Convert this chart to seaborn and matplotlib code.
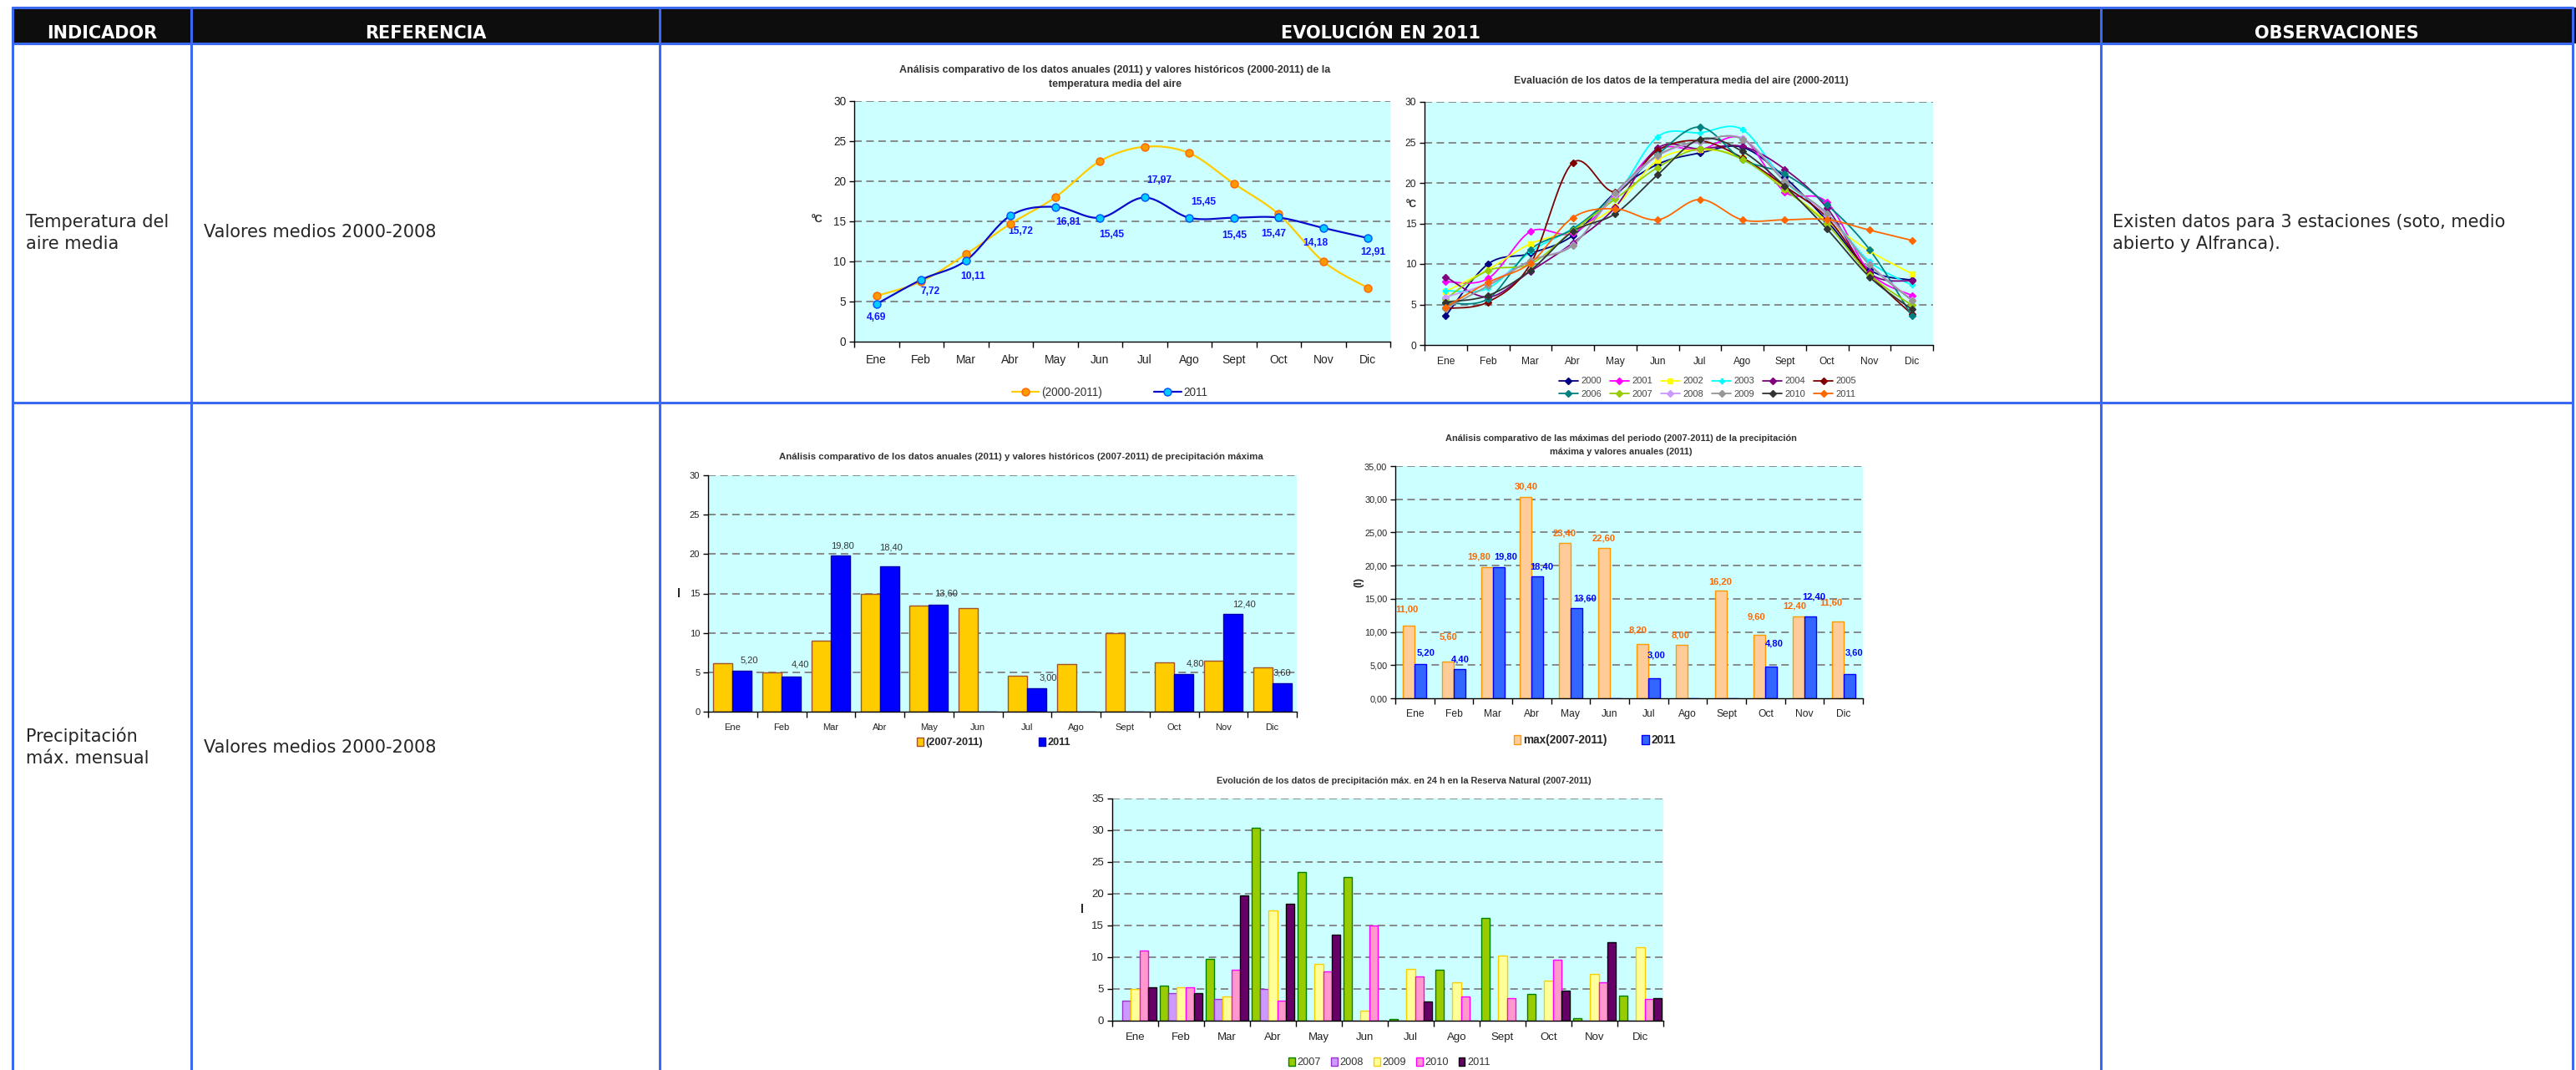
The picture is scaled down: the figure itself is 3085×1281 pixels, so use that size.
import numpy as np
import pandas as pd
import matplotlib
matplotlib.use('Agg')
import matplotlib.pyplot as plt
import seaborn as sns
from matplotlib.lines import Line2D
from matplotlib.patches import Rectangle, Patch

# ----------------------------------------------------------------- data
meses = ['Ene', 'Feb', 'Mar', 'Abr', 'May', 'Jun', 'Jul', 'Ago', 'Sept', 'Oct', 'Nov', 'Dic']

# Chart 1 : temperatura media
temp_hist = [5.7, 7.5, 10.9, 14.7, 18.0, 22.5, 24.3, 23.5, 19.7, 15.9, 10.0, 6.7]
temp_2011 = [4.69, 7.72, 10.11, 15.72, 16.81, 15.45, 17.97, 15.45, 15.45, 15.47, 14.18, 12.91]

# Chart 2 : temperatura media 2000-2011
t2000 = [3.6, 10.0, 11.3, 13.5, 18.8, 22.3, 23.7, 24.4, 20.7, 15.3, 9.3, 8.0]
t2001 = [7.8, 8.2, 14.0, 13.8, 18.3, 24.1, 24.1, 25.5, 18.9, 17.6, 9.0, 6.1]
t2002 = [6.6, 9.3, 12.5, 14.1, 17.1, 22.8, 24.1, 23.1, 19.3, 15.3, 11.6, 8.8]
t2003 = [6.7, 7.0, 11.5, 14.4, 18.3, 25.7, 26.2, 26.6, 20.2, 16.2, 10.3, 7.4]
t2004 = [8.4, 5.9, 9.1, 12.6, 17.0, 24.3, 24.2, 24.5, 21.7, 16.9, 8.9, 7.9]
t2005 = [4.5, 5.3, 10.0, 22.5, 18.9, 24.0, 25.2, 23.1, 19.6, 15.7, 8.8, 3.8]
t2006 = [5.2, 5.7, 11.8, 14.3, 18.6, 23.5, 26.9, 22.9, 21.1, 17.3, 11.8, 3.6]
t2007 = [5.7, 9.2, 10.0, 14.1, 18.0, 21.9, 24.2, 22.9, 19.2, 14.9, 8.7, 4.9]
t2008 = [5.9, 7.6, 10.4, 12.4, 18.6, 23.3, 25.1, 25.5, 20.3, 16.0, 10.0, 5.6]
t2009 = [4.5, 7.3, 10.4, 12.3, 18.8, 23.4, 25.2, 25.4, 20.2, 16.2, 9.9, 5.5]
t2010 = [5.3, 6.1, 9.2, 14.0, 16.2, 21.0, 25.4, 23.9, 19.6, 14.3, 8.4, 4.4]
t2011 = temp_2011
anios_temp = ['2000', '2001', '2002', '2003', '2004', '2005',
              '2006', '2007', '2008', '2009', '2010', '2011']

# Chart 3 : precipitacion maxima (2007-2011) vs 2011
prec_hist = [6.15, 5.0, 9.0, 14.9, 13.5, 13.1, 4.6, 6.0, 10.0, 6.25, 6.5, 5.6]
prec_2011 = [5.2, 4.4, 19.8, 18.4, 13.6, None, 3.0, None, None, 4.8, 12.4, 3.6]

# Chart 4 : maximas del periodo (2007-2011) vs 2011
prec_max = [11.0, 5.6, 19.8, 30.4, 23.4, 22.6, 8.2, 8.0, 16.2, 9.6, 12.4, 11.6]

# Chart 5 : evolucion precipitacion max en 24 h (2007-2011)
p2007 = [None, 5.5, 9.8, 30.4, 23.4, 22.6, 0.2, 8.0, 16.2, 4.2, 0.4, 4.0]
p2008 = [3.2, 4.3, 3.4, 5.0, None, None, None, None, None, None, None, None]
p2009 = [5.0, 5.3, 3.8, 17.4, 9.0, 1.6, 8.2, 6.0, 10.2, 6.3, 7.4, 11.6]
p2010 = [11.0, 5.2, 8.0, 3.2, 7.8, 15.0, 7.0, 3.8, 3.6, 9.6, 6.0, 3.4]
p2011 = prec_2011
anios_prec = ['2007', '2008', '2009', '2010', '2011']

# ----------------------------------------------------------------- style
sns.set_theme(style='white')
K = 1.15
plt.rcParams['font.family'] = ['Liberation Sans', 'DejaVu Sans']

W, H = 3085, 1281
fig = plt.figure(figsize=(W / 100, H / 100), dpi=100)
fig.patch.set_facecolor('white')


def fx(x):
    return x / W


def fy(y):
    return 1 - y / H


PX = 0.72  # points per pixel

# ----------------------------------------------------------------- table
BLUE = '#3a68f0'
fig.patches.append(Rectangle((fx(15), fy(52)), fx(3085) - fx(15), fy(9) - fy(52),
                             transform=fig.transFigure, facecolor='#0d0d0d',
                             edgecolor='none', zorder=0))


def hline(y, x0=15, x1=3081):
    fig.add_artist(Line2D([fx(x0), fx(x1)], [fy(y), fy(y)], color=BLUE, lw=2.2,
                          transform=fig.transFigure, zorder=5))


def vline(x, y0=9, y1=1281):
    fig.add_artist(Line2D([fx(x), fx(x)], [fy(y0), fy(y1)], color=BLUE, lw=2.2,
                          transform=fig.transFigure, zorder=5))


for yy in (9, 52, 482):
    hline(yy)
for xx in (15, 229, 790, 2516, 3081):
    vline(xx)

TFONT = ['DejaVu Sans']
for cx, txt in ((122, 'INDICADOR'), (510, 'REFERENCIA'), (1653, 'EVOLUCIÓN EN 2011'),
                (2798, 'OBSERVACIONES')):
    fig.text(fx(cx), fy(40), txt, ha='center', va='center', color='white',
             fontsize=15, weight='bold', family=TFONT)

fig.text(fx(31), fy(266), 'Temperatura del', ha='left', va='center', fontsize=15, family=TFONT)
fig.text(fx(31), fy(292), 'aire media', ha='left', va='center', fontsize=15, family=TFONT)
fig.text(fx(244), fy(278), 'Valores medios 2000-2008', ha='left', va='center', fontsize=15, family=TFONT)
fig.text(fx(2530), fy(266), 'Existen datos para 3 estaciones (soto, medio', ha='left', va='center',
         fontsize=15, family=TFONT)
fig.text(fx(2530), fy(292), 'abierto y Alfranca).', ha='left', va='center', fontsize=15, family=TFONT)
fig.text(fx(31), fy(881), 'Precipitación', ha='left', va='center', fontsize=15, family=TFONT)
fig.text(fx(31), fy(908), 'máx. mensual', ha='left', va='center', fontsize=15, family=TFONT)
fig.text(fx(244), fy(895), 'Valores medios 2000-2008', ha='left', va='center', fontsize=15, family=TFONT)


# ----------------------------------------------------------------- helpers
def add_ax(x0, y0, x1, y1):
    return fig.add_axes([fx(x0), fy(y1), fx(x1) - fx(x0), fy(y0) - fy(y1)])


def style_ax(ax, ymax, ystep, fmt='{:.0f}', xfs=8, yfs=8, xpad=7):
    ax.set_facecolor('#CCFFFF')
    ax.set_xlim(-0.5, 11.5)
    ax.set_ylim(0, ymax)
    yt = np.arange(0, ymax + 0.001, ystep)
    ax.set_yticks(yt)
    ax.set_yticklabels([fmt.format(v).replace('.', ',') for v in yt])
    for v in yt[1:]:
        ax.axhline(v, color='#808080', lw=1.3, ls=(0, (5, 3)), zorder=0.5)
    ax.set_xticks(range(12))
    ax.set_xticklabels(meses)
    ax.set_xticks(np.arange(-0.5, 12, 1), minor=True)
    ax.tick_params(axis='x', which='major', bottom=False, labelsize=xfs * K, pad=xpad, colors='#222222')
    ax.tick_params(axis='x', which='minor', bottom=True, length=5, width=1, color='black')
    ax.tick_params(axis='y', which='major', left=True, length=4, width=1, color='black',
                   labelsize=yfs * K, pad=3, labelcolor='#222222')
    for s in ('top', 'right'):
        ax.spines[s].set_visible(False)
    for s in ('left', 'bottom'):
        ax.spines[s].set_color('black')
        ax.spines[s].set_linewidth(1.0)
    ax.set_xlabel('')
    ax.set_ylabel('')


def smooth_curve(xv, yv, n=16):
    p = np.column_stack([xv, yv]).astype(float)
    P = np.vstack([p[0], p, p[-1]])
    out = []
    t = np.linspace(0, 1, n, endpoint=False)[:, None]
    for i in range(1, len(P) - 2):
        p0, p1, p2, p3 = P[i - 1], P[i], P[i + 1], P[i + 2]
        seg = 0.5 * ((2 * p1) + (-p0 + p2) * t + (2 * p0 - 5 * p1 + 4 * p2 - p3) * t ** 2
                     + (-p0 + 3 * p1 - 3 * p2 + p3) * t ** 3)
        out.append(seg)
    out.append(p[-1][None, :])
    arr = np.vstack(out)
    return arr[:, 0], arr[:, 1]


def fmt_es(v):
    return f'{v:.2f}'.replace('.', ',')


xpos = np.arange(12)

# ----------------------------------------------------------------- chart 1
ax1 = add_ax(1023, 121, 1665, 409)
series1 = [(temp_hist, '#FFCC00', '#FF9900', '#FF6600', '(2000-2011)'),
           (temp_2011, '#0A0ACC', '#00CCFF', '#0050FF', '2011')]
for vals, lc, mfc, mec, lab in series1:
    sx, sy = smooth_curve(xpos, vals)
    sns.lineplot(x=sx, y=sy, ax=ax1, color=lc, lw=1.6, sort=False, estimator=None, legend=False)
    ax1.plot(xpos, vals, ls='none', marker='o', ms=6.5, mfc=mfc, mec=mec, mew=1.0, zorder=4)
style_ax(ax1, 30, 5, xfs=8.7, yfs=8.5, xpad=5)
lab_off1 = [(0, -16), (11, -14), (8, -19), (12, -19), (16, -18), (14, -20),
            (18, 20), (17, 19), (0, -21), (-6, -20), (-9, -18), (6, -17)]
for i, v in enumerate(temp_2011):
    dx, dy = lab_off1[i]
    ax1.annotate(fmt_es(v), (i, v), xytext=(dx * PX, dy * PX), textcoords='offset points',
                 ha='center', va='center', fontsize=7.5 * K, weight='bold', color='#1414FF')
fig.text(fx(1335), fy(84), 'Análisis comparativo de los datos anuales (2011) y valores históricos (2000-2011) de la',
         ha='center', va='center', fontsize=7.8 * K, weight='bold', color='#333333')
fig.text(fx(1335), fy(101), 'temperatura media del aire', ha='center', va='center',
         fontsize=7.8 * K, weight='bold', color='#333333')
fig.text(fx(979), fy(263), 'ºC', ha='center', va='center', fontsize=8 * K, weight='bold')
h1 = [Line2D([], [], color=lc, lw=1.6, marker='o', ms=6.5, mfc=mfc, mec=mec) for _, lc, mfc, mec, _ in series1]
fig.legend(h1, [s[4] for s in series1], loc='center', bbox_to_anchor=(fx(1329), fy(470)),
           ncol=2, frameon=False, fontsize=8.5 * K, handlelength=2.4, columnspacing=4.6,
           handletextpad=0.2, labelcolor='#333333')

# ----------------------------------------------------------------- chart 2
ax2 = add_ax(1706, 122, 2315, 413)
temp_series = [t2000, t2001, t2002, t2003, t2004, t2005, t2006, t2007, t2008, t2009, t2010, t2011]
col2 = ['#000080', '#FF00FF', '#FFFF00', '#00FFFF', '#800080', '#800000',
        '#008080', '#99CC00', '#CC99FF', '#969696', '#333333', '#FF6600']
mk2 = ['D', 'D', 's', 'P', 'D', 'D', 'D', 'D', 'D', 'D', 'D', 'D']
for vals, c, m in zip(temp_series, col2, mk2):
    sx, sy = smooth_curve(xpos, vals)
    sns.lineplot(x=sx, y=sy, ax=ax2, color=c, lw=1.3, sort=False, estimator=None, legend=False)
    ax2.plot(xpos, vals, ls='none', marker=m, ms=4, color=c, zorder=4)
style_ax(ax2, 30, 5, xfs=7.5, yfs=7.5, xpad=4)
fig.text(fx(2013), fy(97), 'Evaluación de los datos de la temperatura media del aire (2000-2011)',
         ha='center', va='center', fontsize=7.7 * K, weight='bold', color='#333333')
fig.text(fx(1690), fy(245), 'ºC', ha='center', va='center', fontsize=7.5 * K, weight='bold')
h2 = [Line2D([], [], color=c, lw=1.3, marker=m, ms=4) for c, m in zip(col2, mk2)]
order = [0, 6, 1, 7, 2, 8, 3, 9, 4, 10, 5, 11]
fig.legend([h2[i] for i in order], [anios_temp[i] for i in order], loc='center',
           bbox_to_anchor=(fx(2045), fy(464)), ncol=6, frameon=False, fontsize=7 * K,
           handlelength=2.1, handletextpad=0.3, columnspacing=0.85, labelspacing=0.45,
           labelcolor='#444444')

# ----------------------------------------------------------------- chart 3
ax3 = add_ax(848, 569, 1553, 852)
df3 = pd.DataFrame({'mes': meses * 2,
                    'valor': [v if v is not None else 0 for v in prec_hist + prec_2011],
                    'serie': ['(2007-2011)'] * 12 + ['2011'] * 12})
sns.barplot(data=df3, x='mes', y='valor', hue='serie', order=meses,
            hue_order=['(2007-2011)', '2011'], palette=['#FFCC00', '#0000FF'],
            width=0.78, gap=0, saturation=1, errorbar=None, legend=False, ax=ax3)
for cont, ec in zip(ax3.containers, ['#A0522D', '#0000B0']):
    for b in cont:
        b.set_edgecolor(ec)
        b.set_linewidth(1.0)
style_ax(ax3, 30, 5, xfs=7, yfs=7, xpad=4)
lab_off3 = [(9, 12), (11, 15), (3, 12), (2, 23), (9, 13), (0, 0),
            (14, 12), (0, 0), (0, 0), (14, 12), (14, 12), (0, 13)]
for i, (b, v) in enumerate(zip(ax3.containers[1], prec_2011)):
    if v is None:
        continue
    dx, dy = lab_off3[i]
    ax3.annotate(fmt_es(v), (b.get_x() + b.get_width() / 2, b.get_height()),
                 xytext=(dx * PX, dy * PX), textcoords='offset points', ha='center',
                 va='center', fontsize=7 * K, color='#333333')
fig.text(fx(1223), fy(547), 'Análisis comparativo de los datos anuales (2011) y valores históricos (2007-2011) de precipitación máxima',
         ha='center', va='center', fontsize=7.1 * K, weight='bold', color='#333333')
fig.text(fx(813), fy(711), 'l', ha='center', va='center', fontsize=9 * K, weight='bold')
h3 = [Patch(facecolor='#FFCC00', edgecolor='#A0522D'), Patch(facecolor='#0000FF', edgecolor='#0000B0')]
fig.legend(h3, ['(2007-2011)', '2011'], loc='center', bbox_to_anchor=(fx(1190), fy(889)),
           ncol=2, frameon=False, handlelength=0.6, handleheight=0.9,
           handletextpad=0.2, columnspacing=5.3, prop={'weight': 'bold', 'size': 8 * K})

# ----------------------------------------------------------------- chart 4
ax4 = add_ax(1671, 558, 2231, 836)
df4 = pd.DataFrame({'mes': meses * 2,
                    'valor': [v if v is not None else 0 for v in prec_max + prec_2011],
                    'serie': ['max(2007-2011)'] * 12 + ['2011'] * 12})
sns.barplot(data=df4, x='mes', y='valor', hue='serie', order=meses,
            hue_order=['max(2007-2011)', '2011'], palette=['#FFCC99', '#3366FF'],
            width=0.6, gap=0, saturation=1, errorbar=None, legend=False, ax=ax4)
for cont, ec in zip(ax4.containers, ['#FF9900', '#0000FF']):
    for b in cont:
        b.set_edgecolor(ec)
        b.set_linewidth(1.0)
style_ax(ax4, 35, 5, fmt='{:.2f}', xfs=7.6, yfs=6.8, xpad=3.5)
off4a = [(-2, 19), (0, 29), (-9, 12), (0, 12), (0, 12), (0, 12),
         (-6, 16), (-1, 12), (0, 11), (-4, 21), (-5, 12), (-8, 22)]
off4b = [(6, 13), (1, 12), (9, 12), (5, 11), (10, 11), (0, 0),
         (2, 28), (0, 0), (0, 0), (3, 27), (4, 23), (6, 26)]
for i, (b, v) in enumerate(zip(ax4.containers[0], prec_max)):
    dx, dy = off4a[i]
    ax4.annotate(fmt_es(v), (b.get_x() + b.get_width() / 2, b.get_height()),
                 xytext=(dx * PX, dy * PX), textcoords='offset points', ha='center',
                 va='center', fontsize=7 * K, weight='bold', color='#FF6600')
for i, (b, v) in enumerate(zip(ax4.containers[1], prec_2011)):
    if v is None:
        continue
    dx, dy = off4b[i]
    ax4.annotate(fmt_es(v), (b.get_x() + b.get_width() / 2, b.get_height()),
                 xytext=(dx * PX, dy * PX), textcoords='offset points', ha='center',
                 va='center', fontsize=7 * K, weight='bold', color='#0000FF')
fig.text(fx(1941), fy(525), 'Análisis comparativo de las máximas del periodo (2007-2011) de la precipitación',
         ha='center', va='center', fontsize=6.9 * K, weight='bold', color='#333333')
fig.text(fx(1941), fy(541), 'máxima y valores anuales (2011)', ha='center', va='center',
         fontsize=6.9 * K, weight='bold', color='#333333')
fig.text(fx(1627), fy(697), '(l)', ha='center', va='center', fontsize=8 * K, weight='bold', rotation=90)
h4 = [Patch(facecolor='#FFCC99', edgecolor='#FF9900'), Patch(facecolor='#3366FF', edgecolor='#0000FF')]
fig.legend(h4, ['max(2007-2011)', '2011'], loc='center', bbox_to_anchor=(fx(1910), fy(886)),
           ncol=2, frameon=False, handlelength=0.6, handleheight=0.9,
           handletextpad=0.2, columnspacing=3.1, prop={'weight': 'bold', 'size': 8.5 * K})

# ----------------------------------------------------------------- chart 5
ax5 = add_ax(1332, 956, 1992, 1222)
prec_series = [p2007, p2008, p2009, p2010, p2011]
df5 = pd.DataFrame({'mes': meses * 5,
                    'valor': [v if v is not None else 0 for s in prec_series for v in s],
                    'serie': [a for a in anios_prec for _ in range(12)]})
fill5 = ['#99CC00', '#CC99FF', '#FFFF99', '#FF99CC', '#660066']
edge5 = ['#008000', '#9933CC', '#FFCC00', '#FF00FF', '#000000']
sns.barplot(data=df5, x='mes', y='valor', hue='serie', order=meses, hue_order=anios_prec,
            palette=fill5, width=0.91, gap=0, saturation=1, errorbar=None, legend=False, ax=ax5)
for cont, ec in zip(ax5.containers, edge5):
    for b in cont:
        b.set_edgecolor(ec)
        b.set_linewidth(1.0)
style_ax(ax5, 35, 5, xfs=8.3, yfs=8.3, xpad=4)
fig.text(fx(1681), fy(935), 'Evolución de los datos de precipitación máx. en 24 h en la Reserva Natural (2007-2011)',
         ha='center', va='center', fontsize=6.8 * K, weight='bold', color='#333333')
fig.text(fx(1296), fy(1089), 'l', ha='center', va='center', fontsize=9 * K, weight='bold')
h5 = [Patch(facecolor=f, edgecolor=e) for f, e in zip(fill5, edge5)]
fig.legend(h5, anios_prec, loc='center', bbox_to_anchor=(fx(1664), fy(1272)), ncol=5,
           frameon=False, fontsize=8 * K, handlelength=0.6, handleheight=0.9,
           handletextpad=0.2, columnspacing=0.95, labelcolor='#333333')

fig.savefig('out.png', dpi=100, facecolor='white')
